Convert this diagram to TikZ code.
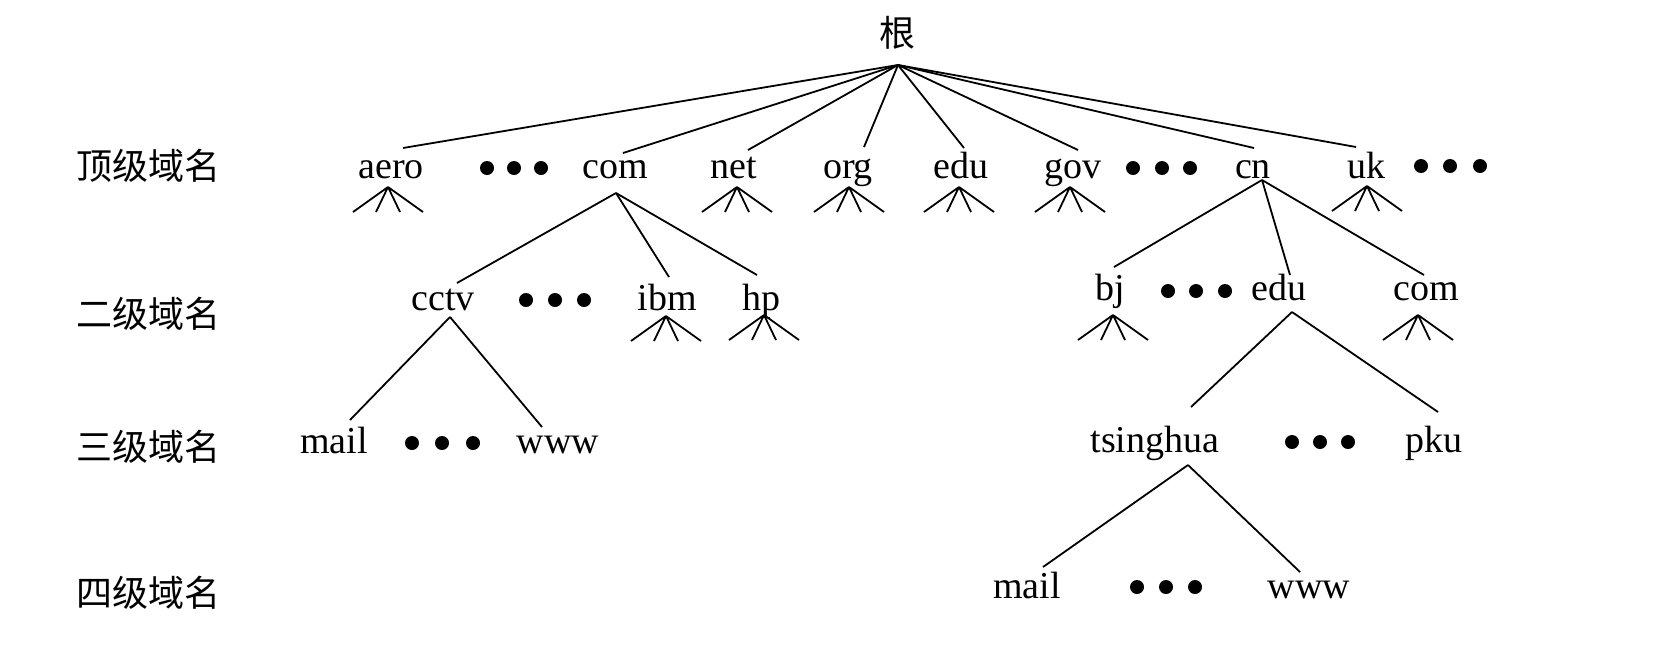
\documentclass[tikz,border=0pt]{standalone}
\usepackage{fontspec}
\setmainfont{Liberation Serif}
\newfontfamily\cjk{Noto Sans CJK SC}
\newcommand\fan[3]{%
  \coordinate (#1) at (#2,#3);
  \draw[edge] (#1) -- ++(-35,25) (#1) -- ++(-12,25) (#1) -- ++(12,25) (#1) -- ++(35,25);}
\newcommand\threedot[5]{%
  \node[dotn] (#1a) at (#2,#5) {};
  \node[dotn] (#1b) at (#3,#5) {};
  \node[dotn] (#1c) at (#4,#5) {};}
\begin{document}
\begin{tikzpicture}[x=1pt,y=-1pt,
  lbl/.style={inner sep=0pt, anchor=base, font=\fontsize{38}{40}\selectfont},
  cjklbl/.style={inner sep=0pt, anchor=center, font=\cjk\fontsize{36}{40}\selectfont},
  dotn/.style={circle, fill=black, inner sep=0pt, minimum size=14pt},
  edge/.style={line width=1.8pt, black}]
\useasboundingbox (0,0) rectangle (1664,670);

% level labels
\node[cjklbl] (L1) at (148,166) {顶级域名};
\node[cjklbl] (L2) at (148,314) {二级域名};
\node[cjklbl] (L3) at (148,447) {三级域名};
\node[cjklbl] (L4) at (148,593) {四级域名};

% root
\node[cjklbl] (root) at (897,33) {根};
\coordinate (J) at (898,65);

% top level
\node[lbl] (aero) at (391,178) {aero};
\threedot{da}{487}{514}{541}{168}
\node[lbl] (com) at (615,178) {com};
\node[lbl] (net) at (734,178) {net};
\node[lbl] (org) at (848,178) {org};
\node[lbl] (edu) at (961,178) {edu};
\node[lbl] (gov) at (1073,178) {gov};
\threedot{db}{1133}{1162}{1190}{168}
\node[lbl] (cn) at (1253,178) {cn};
\node[lbl] (uk) at (1366,178) {uk};
\threedot{dc}{1421}{1450}{1480}{166}

\coordinate (aeroT) at (403,148);
\coordinate (comT) at (623,153);
\coordinate (netT) at (748,150);
\coordinate (orgT) at (864,147);
\coordinate (eduT) at (964,148);
\coordinate (govT) at (1078,150);
\coordinate (cnT) at (1254,148);
\coordinate (ukT) at (1356,147);
\foreach \t in {aeroT,comT,netT,orgT,eduT,govT,cnT,ukT}
  \draw[edge] (J) -- (\t);

\fan{aeroF}{388}{187}
\fan{netF}{737}{187}
\fan{orgF}{849}{187}
\fan{eduF}{959}{187}
\fan{govF}{1070}{187}
\fan{ukF}{1367}{186}

% second level (com)
\node[lbl] (cctv) at (443,310) {cctv};
\threedot{dd}{526}{555}{584}{300}
\node[lbl] (ibm) at (667,310) {ibm};
\node[lbl] (hp) at (761,310) {hp};
\coordinate (comB) at (616,193);
\coordinate (cctvT) at (457,283);
\coordinate (ibmT) at (669,277);
\coordinate (hpT) at (757,275);
\draw[edge] (comB) -- (cctvT);
\draw[edge] (comB) -- (ibmT);
\draw[edge] (comB) -- (hpT);
\fan{ibmF}{666}{316}
\fan{hpF}{764}{315}

% second level (cn)
\node[lbl] (bj) at (1110,300) {bj};
\threedot{de}{1168}{1196}{1225}{291}
\node[lbl] (edu2) at (1279,300) {edu};
\node[lbl] (com2) at (1426,300) {com};
\coordinate (cnB) at (1262,180);
\coordinate (bjT) at (1114,267);
\coordinate (edu2T) at (1290,275);
\coordinate (com2T) at (1424,275);
\draw[edge] (cnB) -- (bjT);
\draw[edge] (cnB) -- (edu2T);
\draw[edge] (cnB) -- (com2T);
\fan{bjF}{1113}{315}
\fan{com2F}{1418}{315}

% third level
\node[lbl] (mail) at (334,453) {mail};
\threedot{df}{412}{442}{473}{443}
\node[lbl] (www) at (558,453) {www};
\coordinate (cctvB) at (450,317);
\coordinate (mailT) at (350,420);
\coordinate (wwwT) at (542,427);
\draw[edge] (cctvB) -- (mailT);
\draw[edge] (cctvB) -- (wwwT);

\node[lbl] (tsinghua) at (1155,452) {tsinghua};
\threedot{dg}{1292}{1320}{1348}{442}
\node[lbl] (pku) at (1434,452) {pku};
\coordinate (edu2B) at (1292,312);
\coordinate (tsT) at (1191,407);
\coordinate (pkuT) at (1438,412);
\draw[edge] (edu2B) -- (tsT);
\draw[edge] (edu2B) -- (pkuT);

% fourth level
\node[lbl] (mail2) at (1027,598) {mail};
\threedot{dh}{1137}{1166}{1195}{587}
\node[lbl] (www2) at (1309,598) {www};
\coordinate (tsB) at (1188,465);
\coordinate (mail2T) at (1043,567);
\coordinate (www2T) at (1300,572);
\draw[edge] (tsB) -- (mail2T);
\draw[edge] (tsB) -- (www2T);
\end{tikzpicture}
\end{document}
